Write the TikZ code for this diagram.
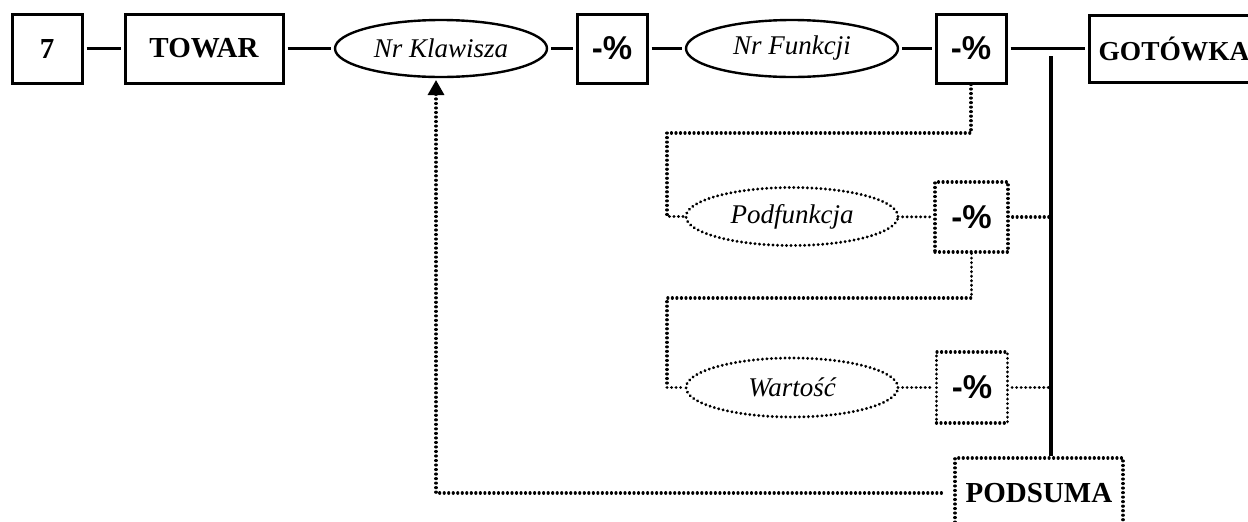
\documentclass[tikz,border=0pt]{standalone}
\usepackage{fontspec}
\setmainfont{Liberation Serif}
\newfontfamily\arialf{Liberation Sans}
\usetikzlibrary{shapes.geometric,arrows.meta}

\begin{document}
\begin{tikzpicture}[x=0.5pt,y=-0.5pt,
  dots/.style={line width=1.6pt,line cap=round,dash pattern=on 0.01pt off 2.25pt},
  key/.style={draw,line width=1.5pt,inner sep=0pt,minimum height=34.5pt,font=\fontsize{14.5}{17}\selectfont\bfseries},
  pct/.style={key,minimum width=35pt,font=\arialf\fontsize{16.5}{19}\selectfont\bfseries},
  num/.style={draw,ellipse,line width=1.2pt,inner sep=0pt,minimum width=106pt,minimum height=28.5pt,font=\fontsize{13.5}{16}\selectfont\itshape},
  link/.style={line width=1.5pt,shorten <=1.5pt,shorten >=1.5pt}]
\useasboundingbox (0,0) rectangle (1248,521);
\node [key,minimum width=35pt] (n7) at (47,48.5) {7};
\node [key,minimum width=79pt] (towar) at (204,48.5) {TOWAR};
\node [num] (klaw) at (441,48.5) {Nr Klawisza};
\node [pct] (pr1) at (612,48.5) {-\%};
\node [num] (funk) at (792,48.5) {Nr Funkcji};
\node [pct] (pr2) at (971,48.5) {-\%};
\node [key,minimum width=85pt,minimum height=33.5pt,font=\fontsize{13.7}{16}\selectfont\bfseries] (got) at (1174,48.5) {GOTÓWKA};
\node [num,dots,minimum height=29pt] (podf) at (792,216.5) {Podfunkcja};
\node [pct,dots,minimum width=36.5pt,minimum height=35pt] (pr3) at (971.5,217) {-\%};
\node [num,dots,minimum height=29.5pt] (wart) at (792,387.5) {Wartość};
\node [pct,dots,minimum width=35.5pt,minimum height=35.5pt] (pr4) at (972,387.5) {-\%};
\node [key,dots,minimum width=84pt,minimum height=35pt] (podsuma) at (1039,493) {PODSUMA};
\coordinate (bartop) at (1051,56);
\coordinate (turn1) at (667,133);
\coordinate (turn2) at (667,298);
\coordinate (tip) at (436,80);
\draw [link] (n7) -- (towar);
\draw [link] (towar) -- (klaw);
\draw [link] (klaw) -- (pr1);
\draw [link] (pr1) -- (funk);
\draw [link] (funk) -- (pr2);
\draw [link] (pr2) -- (got);
\draw [line width=1.6pt] (bartop) -- (bartop |- podsuma.north);
\draw [dots] (pr2.south) |- (turn1) |- (podf.west);
\draw [dots,shorten <=1.5pt,shorten >=1.5pt] (podf) -- (pr3);
\draw [dots,shorten <=1.5pt] (pr3.east) -- (pr3.east -| bartop);
\draw [dots] (pr3.south) |- (turn2) |- (wart.west);
\draw [dots,shorten <=1.5pt,shorten >=1.5pt] (wart) -- (pr4);
\draw [dots,shorten <=1.5pt] (pr4.east) -- (pr4.east -| bartop);
\draw [dots,shorten <=6pt,-{Triangle[width=8pt,length=7.5pt]}] (podsuma.west) -| (tip);
\end{tikzpicture}
\end{document}
